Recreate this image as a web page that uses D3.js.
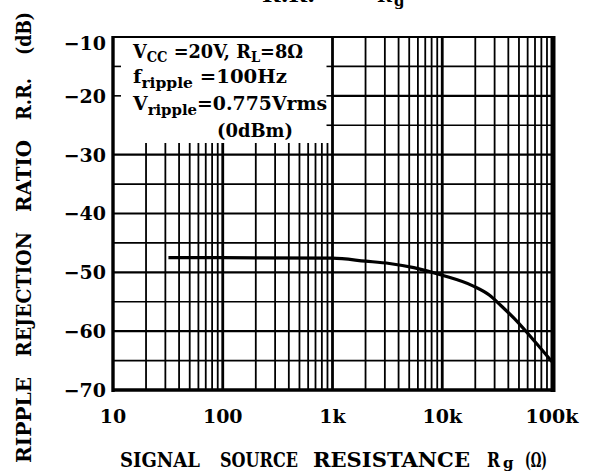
<!doctype html>
<html>
<head>
<meta charset="UTF-8">
<title>Ripple rejection ratio vs signal source resistance</title>
<script src="https://d3js.org/d3.v7.min.js"></script>
<style>
	body { margin: 0; background: #fff; }
	.chart text {
		font-family: 'DejaVu Serif', 'Liberation Serif', serif;
		font-weight: bold;
		fill: #000;
	}
</style>
</head>
<body>
<svg class="chart" width="595" height="474"></svg>
<script>
// curve
var rg = [32, 100, 1000, 2000, 3300, 5500, 10000, 19000, 27000, 34000, 45000, 70000, 100000];
var rr = [-47.5, -47.5, -47.6, -48.1, -48.5, -49.2, -50.5, -52.3, -53.9, -55.6, -57.8, -61.8, -65.2];

var yTicks = [-10, -20, -30, -40, -50, -60, -70];
var xTicks = [10, 100, 1000, 10000, 100000];
var xTickLabels = ['10', '100', '1k', '10k', '100k'];
var conditions = ['V', 'CC', ' =20V, R', 'L', '=8Ω'];

var chart = d3.select('.chart');
var pLeft = 113, pRight = 552, pTop = 37, pBottom = 390;

var x = d3.scaleLog().domain([10, 100000]).range([pLeft, pRight]);
var y = d3.scaleLinear().domain([-70, -10]).range([pBottom, pTop]);

var grid = chart.append('g');
var boxBottom = 143;

// horizontal grid every 5 dB
var hLines = d3.range(-65, -10, 5);
grid.selectAll('.h')
	.data(hLines)
	.enter().append('line')
	.attr('x1', function(d) { return d > -30 ? x(1000) : pLeft; })
	.attr('x2', pRight)
	.attr('y1', function(d) { return y(d); })
	.attr('y2', function(d) { return y(d); })
	.attr('stroke', '#000')
	.attr('stroke-width', function(d) { return d % 10 === 0 ? 2.2 : 1.7; });

// vertical grid 2..9 per decade, decades thicker
var vLines = [];
[10, 100, 1000, 10000].forEach(function(dec) {
	for (var k = 1; k <= 9; k++) vLines.push(k * dec);
});
grid.selectAll('.v')
	.data(vLines.filter(function(d) { return d > 10; }))
	.enter().append('line')
	.attr('x1', function(d) { return x(d); })
	.attr('x2', function(d) { return x(d); })
	.attr('y1', function(d) { return d < 1000 ? boxBottom : pTop; })
	.attr('y2', pBottom)
	.attr('stroke', '#000')
	.attr('stroke-width', function(d) { return xTicks.indexOf(d) >= 0 ? 2.8 : 1.8; });

// short ticks inside the condition box
grid.selectAll('.tl')
	.data([-15, -20])
	.enter().append('line')
	.attr('x1', pLeft).attr('x2', pLeft + 8)
	.attr('y1', function(d) { return y(d); })
	.attr('y2', function(d) { return y(d); })
	.attr('stroke', '#000').attr('stroke-width', 1.6);
grid.selectAll('.tr')
	.data([-15, -20, -25])
	.enter().append('line')
	.attr('x1', x(1000) - 6).attr('x2', x(1000))
	.attr('y1', function(d) { return y(d); })
	.attr('y2', function(d) { return y(d); })
	.attr('stroke', '#000').attr('stroke-width', 1.6);

// frame
chart.append('line').attr('x1', pLeft - 1).attr('x2', pRight).attr('y1', pTop).attr('y2', pTop)
	.attr('stroke', '#000').attr('stroke-width', 2);
chart.append('line').attr('x1', pLeft).attr('x2', pLeft).attr('y1', pTop - 1).attr('y2', pBottom + 2)
	.attr('stroke', '#000').attr('stroke-width', 3.4);
chart.append('line').attr('x1', pLeft - 1).attr('x2', pRight + 3).attr('y1', pBottom).attr('y2', pBottom)
	.attr('stroke', '#000').attr('stroke-width', 3.6);
chart.append('line').attr('x1', pRight + 1).attr('x2', pRight + 1).attr('y1', pTop - 1).attr('y2', pBottom + 2)
	.attr('stroke', '#000').attr('stroke-width', 5);

// curve
var line = d3.line()
	.x(function(d) { return x(d[0]); })
	.y(function(d) { return y(d[1]); })
	.curve(d3.curveMonotoneX);
chart.append('path')
	.datum(rg.map(function(d, i) { return [d, rr[i]]; }))
	.attr('d', line)
	.attr('fill', 'none')
	.attr('stroke', '#000')
	.attr('stroke-width', 3.2);

// tick labels
chart.selectAll('.yl')
	.data(yTicks)
	.enter().append('text')
	.attr('x', 106)
	.attr('y', function(d) { return y(d) + (d === -10 ? 6 : 0); })
	.attr('dy', '0.36em')
	.attr('text-anchor', 'end')
	.style('font-size', '19px')
	.text(function(d) { return '−' + Math.abs(d); });

chart.selectAll('.xl')
	.data(xTicks)
	.enter().append('text')
	.attr('x', function(d) { return x(d); })
	.attr('y', 423)
	.attr('text-anchor', 'middle')
	.style('font-size', '19px')
	.text(function(d, i) { return xTickLabels[i]; });

// condition text
function condLine(yy, len, parts) {
	var t = chart.append('text').attr('x', 133).attr('y', yy)
		.attr('textLength', len).attr('lengthAdjust', 'spacingAndGlyphs')
		.style('font-size', '19px');
	parts.forEach(function(p) {
		var s = t.append('tspan').text(p[0]);
		if (p[1]) s.attr('dy', p[1]);
		if (p[2]) s.style('font-size', p[2]);
	});
}
condLine(58, 170, [[conditions[0]], [conditions[1], 4, '14px'], [conditions[2], -4], [conditions[3], 4, '14px'], [conditions[4], -4]]);
condLine(83, 154, [['f'], ['ripple', 5, '15px'], [' =100Hz', -5]]);
condLine(110, 194, [['V'], ['ripple', 5, '15px'], ['=0.775Vrms', -5]]);
chart.append('text').attr('x', 217).attr('y', 137)
	.attr('textLength', 76).attr('lengthAdjust', 'spacingAndGlyphs')
	.style('font-size', '19px').text('(0dBm)');

// x axis title, word by word
var xWords = [['SIGNAL', 120, 80], ['SOURCE', 220, 78], ['RESISTANCE', 313, 157], ['R', 487, 13], ['(Ω)', 525, 22]];
chart.selectAll('.xt')
	.data(xWords)
	.enter().append('text')
	.attr('x', function(d) { return d[1]; })
	.attr('y', 467)
	.attr('textLength', function(d) { return d[2]; })
	.attr('lengthAdjust', 'spacingAndGlyphs')
	.style('font-size', '21px')
	.text(function(d) { return d[0]; });
chart.append('text').attr('x', 503).attr('y', 468).style('font-size', '15px').text('g');

// y axis title, word by word (rotated)
var yWords = [['RIPPLE', 463, 86], ['REJECTION', 357, 125], ['RATIO', 212, 72], ['R.R.', 120, 42], ['(dB)', 55, 43]];
chart.selectAll('.yt')
	.data(yWords)
	.enter().append('text')
	.attr('transform', function(d) { return 'translate(31,' + d[1] + ') rotate(-90)'; })
	.attr('textLength', function(d) { return d[2]; })
	.attr('lengthAdjust', 'spacingAndGlyphs')
	.style('font-size', '21px')
	.text(function(d) { return d[0]; });

// clipped title at the very top
chart.append('text').attr('x', 262).attr('y', 2)
	.attr('textLength', 53).attr('lengthAdjust', 'spacingAndGlyphs')
	.style('font-size', '18px').text('R.R.');
chart.append('text').attr('x', 377).attr('y', 2).style('font-size', '18px').text('R');
chart.append('text').attr('x', 394).attr('y', 6).style('font-size', '15px').text('g');
</script>
</body>
</html>
